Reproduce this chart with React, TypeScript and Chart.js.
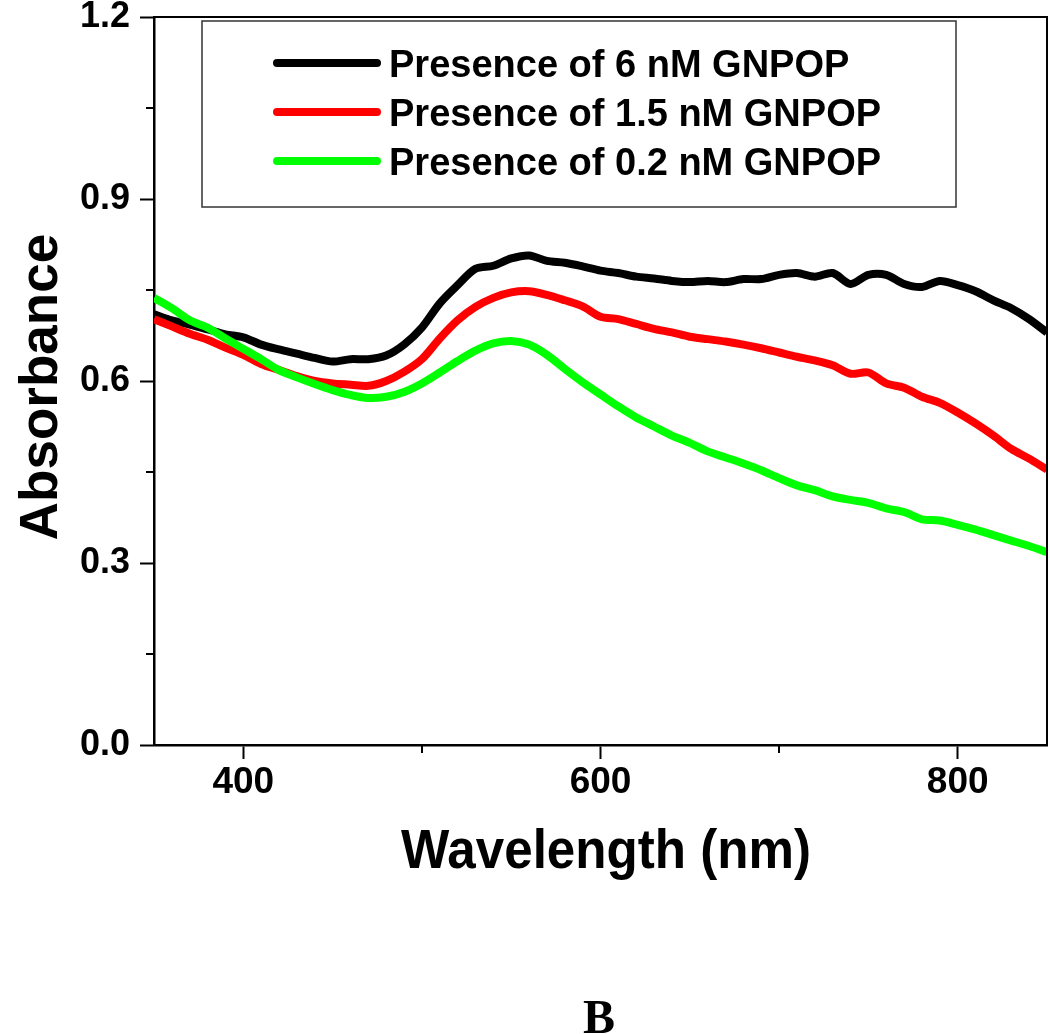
import React, { useEffect, useRef } from 'react';
import { Chart, registerables } from 'chart.js';

Chart.register(...registerables);

// ---------- data ----------
const wavelengths = [
  350, 360, 370, 380, 390, 400, 410, 420, 430, 440, 450, 460, 470, 480, 490, 500,
  510, 520, 530, 540, 550, 560, 570, 580, 590, 600, 610, 620, 630, 640, 650, 660,
  670, 680, 690, 700, 710, 720, 730, 740, 750, 760, 770, 780, 790, 800, 810, 820,
  830, 840, 850,
];

const absorbance6nM = [
  0.710, 0.700, 0.693, 0.685, 0.677, 0.672, 0.660, 0.652, 0.645, 0.638, 0.632, 0.636,
  0.636, 0.642, 0.660, 0.688, 0.728, 0.758, 0.785, 0.790, 0.802, 0.807, 0.798, 0.795,
  0.789, 0.782, 0.778, 0.772, 0.769, 0.765, 0.763, 0.765, 0.763, 0.768, 0.768, 0.775,
  0.778, 0.772, 0.778, 0.760, 0.775, 0.775, 0.760, 0.755, 0.765, 0.758, 0.748, 0.733,
  0.720, 0.702, 0.680,
];

const absorbance1p5nM = [
  0.702, 0.690, 0.678, 0.668, 0.655, 0.643, 0.628, 0.618, 0.608, 0.600, 0.596, 0.594,
  0.592, 0.600, 0.615, 0.636, 0.670, 0.700, 0.722, 0.737, 0.746, 0.748, 0.742, 0.733,
  0.723, 0.706, 0.702, 0.694, 0.686, 0.680, 0.673, 0.669, 0.665, 0.660, 0.654, 0.647,
  0.640, 0.634, 0.626, 0.612, 0.614, 0.596, 0.589, 0.574, 0.564, 0.548, 0.530, 0.510,
  0.488, 0.472, 0.454,
];

const absorbance0p2nM = [
  0.737, 0.720, 0.700, 0.688, 0.670, 0.653, 0.636, 0.618, 0.606, 0.595, 0.585, 0.577,
  0.572, 0.574, 0.582, 0.596, 0.614, 0.633, 0.650, 0.662, 0.666, 0.660, 0.643, 0.620,
  0.598, 0.578, 0.558, 0.540, 0.525, 0.510, 0.498, 0.484, 0.474, 0.464, 0.453, 0.440,
  0.428, 0.420, 0.410, 0.404, 0.399, 0.390, 0.384, 0.372, 0.370, 0.363, 0.355, 0.346,
  0.337, 0.328, 0.318,
];

const seriesLabels = [
  'Presence of 6 nM GNPOP',
  'Presence of 1.5 nM GNPOP',
  'Presence of 0.2 nM GNPOP',
];
const seriesColors = ['#000000', '#ff0000', '#00ff00'];

const xMajorTicks = [400, 600, 800];
const xMinorTicks = [500, 700];
const yMajorTicks = [0.0, 0.3, 0.6, 0.9, 1.2];
const yMinorTicks = [0.15, 0.45, 0.75, 1.05];

const xTitle = 'Wavelength (nm)';
const yTitle = 'Absorbance';
const panelLabel = 'B';

const SANS = '"Liberation Sans", Arial, Helvetica, sans-serif';
const SERIF = '"Liberation Serif", "Times New Roman", serif';

const decorPlugin = {
  id: 'decor',
  afterDraw(chart: any) {
    const { ctx, chartArea, scales } = chart;
    const xs = scales.x;
    const ys = scales.y;
    ctx.save();
    // top & right frame
    ctx.strokeStyle = '#000';
    ctx.lineWidth = 2;
    ctx.beginPath();
    ctx.moveTo(chartArea.left, chartArea.top);
    ctx.lineTo(chartArea.right, chartArea.top);
    ctx.lineTo(chartArea.right, chartArea.bottom);
    ctx.stroke();

    // minor ticks
    ctx.lineWidth = 2;
    ctx.beginPath();
    yMinorTicks.forEach((v) => {
      const py = Math.round(ys.getPixelForValue(v));
      ctx.moveTo(chartArea.left - 8, py);
      ctx.lineTo(chartArea.left, py);
    });
    xMinorTicks.forEach((v) => {
      const px = Math.round(xs.getPixelForValue(v));
      ctx.moveTo(px, chartArea.bottom);
      ctx.lineTo(px, chartArea.bottom + 8);
    });
    ctx.stroke();

    // legend box
    ctx.strokeStyle = '#333';
    ctx.lineWidth = 1.5;
    ctx.strokeRect(202, 21, 754, 186);
    chart.data.datasets.forEach((ds: any, i: number) => {
      const ly = 63 + 49 * i;
      ctx.strokeStyle = ds.borderColor;
      ctx.lineWidth = 8;
      ctx.lineCap = 'round';
      ctx.beginPath();
      ctx.moveTo(277, ly);
      ctx.lineTo(377, ly);
      ctx.stroke();
      ctx.fillStyle = '#000';
      ctx.font = `bold 38px ${SANS}`;
      ctx.textAlign = 'left';
      ctx.textBaseline = 'alphabetic';
      ctx.fillText(ds.label, 389, ly + 14);
    });

    // axis titles
    ctx.fillStyle = '#000';
    ctx.textAlign = 'center';
    ctx.textBaseline = 'alphabetic';
    ctx.save();
    ctx.translate(606, 868);
    ctx.scale(0.93, 1);
    ctx.font = `bold 55px ${SANS}`;
    ctx.fillText(xTitle, 0, 0);
    ctx.restore();

    ctx.save();
    ctx.font = `bold 53px ${SANS}`;
    ctx.translate(57, 387);
    ctx.rotate(-Math.PI / 2);
    ctx.fillText(yTitle, 0, 0);
    ctx.restore();

    // panel label
    ctx.font = `bold 48px ${SERIF}`;
    ctx.fillText(panelLabel, 599, 1033);
    ctx.restore();
  },
};

function App() {
  const canvasRef = useRef<HTMLCanvasElement | null>(null);

  useEffect(() => {
    document.body.style.margin = '0';
    const canvas = canvasRef.current;
    if (!canvas) return;
    const seriesValues = [absorbance6nM, absorbance1p5nM, absorbance0p2nM];
    const chart = new Chart(canvas, {
      type: 'line',
      data: {
        datasets: seriesValues.map((vals, i) => ({
          label: seriesLabels[i],
          data: wavelengths.map((w, j) => ({ x: w, y: vals[j] })),
          borderColor: seriesColors[i],
          backgroundColor: seriesColors[i],
          borderWidth: 8,
          pointRadius: 0,
          tension: 0.3,
          fill: false,
          order: 3 - i,
        })),
      },
      options: {
        responsive: false,
        animation: false,
        devicePixelRatio: 1,
        layout: { padding: { top: 17, right: 3, left: 0, bottom: 0 } },
        plugins: {
          legend: { display: false },
          tooltip: { enabled: false },
          title: { display: false },
        },
        scales: {
          x: {
            type: 'linear',
            min: 350,
            max: 850,
            afterBuildTicks: (scale: any) => {
              scale.ticks = xMajorTicks.map((v) => ({ value: v }));
            },
            afterFit: (scale: any) => {
              scale.height = 289;
              scale.paddingLeft = 0;
              scale.paddingRight = 0;
            },
            grid: {
              display: true,
              drawOnChartArea: false,
              drawTicks: true,
              tickLength: 14,
              tickWidth: 2,
              tickColor: '#000',
            },
            border: { display: true, color: '#000', width: 2.5 },
            ticks: {
              color: '#000',
              padding: 2,
              maxRotation: 0,
              font: { family: SANS, size: 37, weight: 'bold' },
              callback: (v: any) => String(v),
            },
          },
          y: {
            type: 'linear',
            min: 0,
            max: 1.2,
            afterBuildTicks: (scale: any) => {
              scale.ticks = yMajorTicks.map((v) => ({ value: v }));
            },
            afterFit: (scale: any) => {
              scale.width = 154;
              scale.paddingTop = 0;
              scale.paddingBottom = 0;
            },
            grid: {
              display: true,
              drawOnChartArea: false,
              drawTicks: true,
              tickLength: 14,
              tickWidth: 2,
              tickColor: '#000',
            },
            border: { display: true, color: '#000', width: 2.5 },
            ticks: {
              color: '#000',
              padding: 10,
              font: { family: SANS, size: 36, weight: 'bold' },
              callback: (v: any) => Number(v).toFixed(1),
            },
          },
        },
      },
      plugins: [decorPlugin],
    });
    return () => {
      chart.destroy();
    };
  }, []);

  return (
    <div style={{ width: 1050, height: 1034, background: '#fff' }}>
      <canvas ref={canvasRef} width={1050} height={1034} style={{ display: 'block' }} />
    </div>
  );
}

export default App;
